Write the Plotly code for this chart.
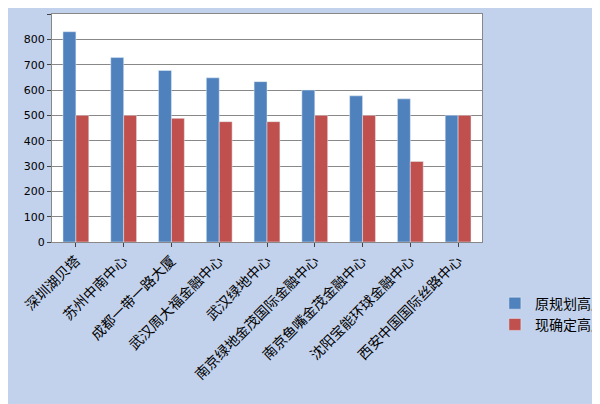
import plotly.graph_objects as go

towers = ["深圳湖贝塔", "苏州中南中心", "成都一带一路大厦", "武汉周大福金融中心", "武汉绿地中心",
          "南京绿地金茂国际金融中心", "南京鱼嘴金茂金融中心", "沈阳宝能环球金融中心", "西安中国国际丝路中心"]
planned = [830, 728, 677, 648, 633, 600, 577, 565, 500]
current = [500, 500, 488, 475, 475, 500, 500, 318, 500]

fig = go.Figure()
fig.add_trace(go.Bar(x=towers, y=planned, name="原规划高度", marker_color="#4f81bd"))
fig.add_trace(go.Bar(x=towers, y=current, name="现确定高度", marker_color="#c0504d"))

fig.update_layout(
    width=600, height=404,
    margin=dict(l=44, r=126, t=6, b=170, autoexpand=False),
    paper_bgcolor="#c3d2ec",
    plot_bgcolor="white",
    bargap=0.46, bargroupgap=0,
    font=dict(family="Noto Sans CJK SC", size=12, color="black"),
    legend=dict(x=1.03, y=-0.2, yanchor="top", xanchor="left", bgcolor="rgba(0,0,0,0)",
                font=dict(size=14), itemwidth=30, tracegroupgap=14),
    showlegend=True,
)
fig.update_xaxes(tickangle=-45, ticks="outside", ticklen=4, showline=True, linecolor="#888",
                 tickfont=dict(size=14), mirror=True, automargin=False)
fig.update_yaxes(range=[0, 900], dtick=100, gridcolor="#888", showline=True, linecolor="#888",
                 ticks="outside", ticklen=4, tickfont=dict(family="DejaVu Sans", size=11),
                 zeroline=False, mirror=True, automargin=False)

fig.write_html("out.html")
